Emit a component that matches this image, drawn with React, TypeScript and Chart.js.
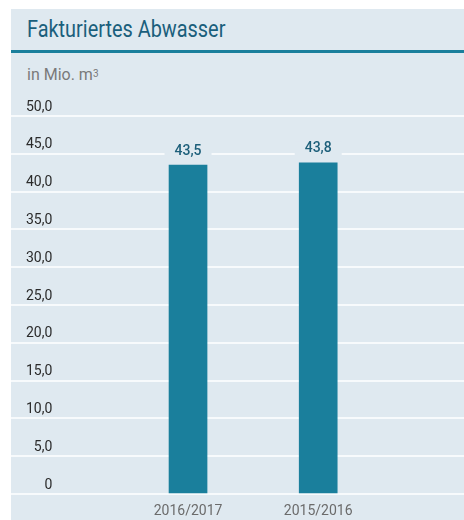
import React, { useEffect, useRef } from 'react';
import { Chart, registerables } from 'chart.js';

Chart.register(...registerables);

const categories: string[] = ['2016/2017', '2015/2016'];
const values: number[] = [43.5, 43.8];
const yMin = 0;
const yMax = 50;
const yStep = 5;

const FONT = "Roboto, 'Liberation Sans', sans-serif";
const PANEL_BG = '#dfe9f0';
const GRID = '#f7fafc';
const BAR = '#1a7f9c';
const TITLE = '#1a5f7c';
const VALUE_COLOR = '#1d5f7a';

const fmt = (v: number) => (v === 0 ? '0' : v.toFixed(1).replace('.', ','));

const valueLabels = {
  id: 'valueLabels',
  afterDatasetsDraw(chart: any) {
    const ctx = chart.ctx;
    const meta = chart.getDatasetMeta(0);
    ctx.save();
    ctx.font = `500 14px ${FONT}`;
    ctx.textAlign = 'center';
    ctx.textBaseline = 'middle';
    meta.data.forEach((bar: any, i: number) => {
      const text = fmt(values[i]);
      const w = ctx.measureText(text).width;
      const y = bar.y - 14;
      ctx.fillStyle = PANEL_BG;
      ctx.fillRect(bar.x - w / 2 - 10, y - 7, w + 20, 14);
      ctx.fillStyle = VALUE_COLOR;
      ctx.fillText(text, bar.x, y);
    });
    ctx.restore();
  },
};

export default function App() {
  const ref = useRef<HTMLCanvasElement | null>(null);

  useEffect(() => {
    if (!ref.current) return;
    const chart = new Chart(ref.current, {
      type: 'bar',
      data: {
        datasets: [
          {
            data: values.map((v, i) => ({ x: i, y: v })),
            backgroundColor: BAR,
            borderWidth: 0,
            barThickness: 38,
          },
        ],
      },
      options: {
        animation: false,
        responsive: false,
        maintainAspectRatio: false,
        layout: { padding: { top: 30, bottom: 0, left: 0, right: 0 } },
        plugins: {
          legend: { display: false },
          tooltip: { enabled: false },
          title: { display: false },
        },
        scales: {
          x: {
            type: 'linear',
            offset: false,
            min: -1.36,
            max: 2.12,
            grid: { display: false, drawTicks: false },
            border: { display: false },
            afterFit: (s: any) => {
              s.height = 26;
            },
            ticks: {
              stepSize: 1,
              autoSkip: false,
              maxRotation: 0,
              padding: 9,
              color: '#6b6b6b',
              font: { family: FONT, size: 14 },
              callback: (v: any) =>
                Number.isInteger(v) && categories[v as number] !== undefined ? categories[v as number] : '',
            },
          },
          y: {
            min: yMin,
            max: yMax,
            border: { display: false },
            grid: { color: GRID, lineWidth: 2, drawTicks: false },
            afterFit: (s: any) => {
              s.width = 0;
            },
            ticks: {
              stepSize: yStep,
              mirror: true,
              crossAlign: 'far',
              padding: 15,
              labelOffset: -9,
              color: '#2b2b2b',
              font: { family: FONT, size: 14 },
              callback: (v: any) => fmt(Number(v)),
            },
          },
        },
      },
      plugins: [valueLabels],
    } as any);
    return () => chart.destroy();
  }, []);

  return (
    <div style={{ position: 'fixed', left: 0, top: 0, width: 464, height: 520, background: '#ffffff', overflow: 'hidden' }}>
      <div style={{ position: 'absolute', left: 11, top: 9, width: 453, height: 511, background: PANEL_BG }}>
        <div
          style={{
            position: 'absolute',
            left: 16,
            top: 6,
            fontFamily: FONT,
            fontSize: 23,
            color: TITLE,
            lineHeight: '30px',
            whiteSpace: 'nowrap',
            transform: 'scaleX(0.865)',
            transformOrigin: 'left center',
          }}
        >
          Fakturiertes Abwasser
        </div>
        <div style={{ position: 'absolute', left: 0, top: 41, width: 453, height: 3, background: BAR }} />
        <div
          style={{
            position: 'absolute',
            left: 16,
            top: 56,
            fontFamily: FONT,
            fontSize: 16,
            color: '#7a7a7a',
            lineHeight: '20px',
            whiteSpace: 'nowrap',
          }}
        >
          in Mio. m<sup style={{ fontSize: 10, verticalAlign: 'top', position: 'relative', top: -1 }}>3</sup>
        </div>
        <canvas ref={ref} width={471} height={434} style={{ position: 'absolute', left: -9, top: 77, display: 'block' }} />
      </div>
    </div>
  );
}
